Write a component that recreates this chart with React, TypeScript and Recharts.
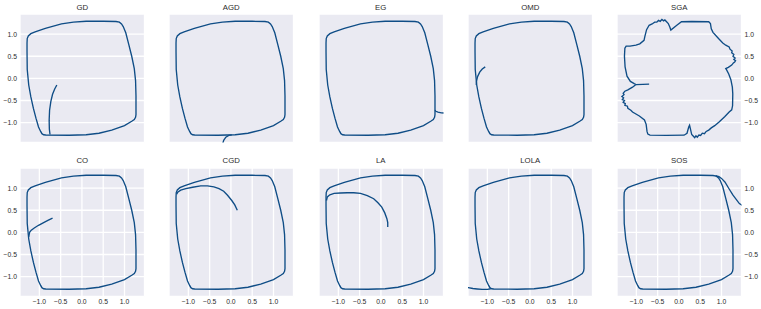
import { LineChart, Line, XAxis, YAxis, CartesianGrid } from 'recharts';

// shared limit cycle, traced clockwise from the top-left corner
const LOOP = [
  [-1.29, 0.8], [-1.285, 0.9], [-1.26, 0.96], [-1.2, 1.01], [-1.1, 1.05], [-0.86, 1.13],
  [-0.48, 1.23], [-0.2, 1.27], [0.1, 1.29], [0.5, 1.29], [0.8, 1.285], [0.88, 1.27],
  [0.93, 1.23], [0.97, 1.17], [1.03, 1.03], [1.1, 0.77], [1.17, 0.5], [1.23, 0.22],
  [1.26, -0.05], [1.27, -0.4], [1.27, -0.82], [1.26, -0.88], [1.23, -0.93], [1.17, -0.97],
  [1.0, -1.07], [0.7, -1.17], [0.4, -1.24], [0.1, -1.275], [-0.3, -1.285], [-0.85, -1.28],
  [-0.9, -1.275], [-0.94, -1.25], [-0.97, -1.2], [-1.02, -1.1], [-1.08, -0.9], [-1.14, -0.68],
  [-1.2, -0.42], [-1.25, -0.15], [-1.285, 0.2], [-1.29, 0.6], [-1.29, 0.8],
];

const SGA_LOOP = [
  [-1.01, -0.14], [-1.09, -0.2], [-1.2, -0.26], [-1.27, -0.29], [-1.31, -0.34], [-1.29, -0.37],
  [-1.34, -0.41], [-1.3, -0.44], [-1.33, -0.48], [-1.28, -0.5], [-1.31, -0.54], [-1.26, -0.57],
  [-1.27, -0.61], [-1.21, -0.63], [-1.2, -0.68], [-1.13, -0.72], [-1.09, -0.76], [-0.93, -0.85],
  [-0.81, -0.94], [-0.77, -1.04], [-0.75, -1.2], [-0.73, -1.26], [-0.68, -1.285], [-0.3, -1.29],
  [0.12, -1.285], [0.19, -1.24], [0.23, -1.1], [0.25, -1.06], [0.27, -1.14], [0.3, -1.27],
  [0.34, -1.31], [0.37, -1.34], [0.4, -1.3], [0.43, -1.33], [0.47, -1.28], [0.51, -1.29],
  [0.55, -1.24], [0.6, -1.25], [0.64, -1.2], [0.7, -1.17], [0.76, -1.12], [0.84, -1.07],
  [0.95, -0.98], [1.08, -0.86], [1.18, -0.76], [1.24, -0.71], [1.26, -0.62], [1.265, -0.35],
  [1.255, -0.2], [1.22, -0.03], [1.17, 0.1], [1.12, 0.19], [1.1, 0.22], [1.16, 0.25],
  [1.24, 0.3], [1.28, 0.35], [1.31, 0.37], [1.33, 0.4], [1.29, 0.43], [1.32, 0.46],
  [1.27, 0.5], [1.29, 0.54], [1.24, 0.58], [1.25, 0.62], [1.2, 0.66], [1.18, 0.71],
  [1.1, 0.75], [1.03, 0.8], [0.93, 0.9], [0.8, 1.04], [0.76, 1.12], [0.74, 1.24],
  [0.7, 1.28], [0.3, 1.285], [0.06, 1.28], [-0.05, 1.2], [-0.19, 1.09], [-0.21, 1.15],
  [-0.25, 1.24], [-0.29, 1.28], [-0.33, 1.32], [-0.36, 1.3], [-0.4, 1.33], [-0.44, 1.29],
  [-0.48, 1.31], [-0.52, 1.27], [-0.57, 1.27], [-0.63, 1.23], [-0.7, 1.2], [-0.76, 1.1],
  [-0.8, 0.95], [-0.82, 0.86], [-0.92, 0.78], [-1.01, 0.75], [-1.15, 0.73], [-1.24, 0.73],
  [-1.27, 0.68], [-1.28, 0.5], [-1.265, 0.26], [-1.22, 0.05], [-1.14, -0.07], [-1.05, -0.12],
  [-1.01, -0.14],
];

// transient part of each run, from the start point to where it meets the cycle
const GD_TAIL = [[-0.59, -0.15], [-0.64, -0.24], [-0.69, -0.36], [-0.73, -0.52], [-0.76, -0.72], [-0.77, -0.95], [-0.765, -1.15], [-0.75, -1.27]];
const AGD_TAIL = [[-0.2, -1.5], [-0.17, -1.4], [-0.12, -1.33], [-0.05, -1.29], [0.02, -1.278]];
const EG_TAIL = [[1.5, -0.785], [1.42, -0.78], [1.34, -0.765], [1.29, -0.745], [1.27, -0.72]];
const OMD_TAIL = [[-1.05, 0.26], [-1.12, 0.21], [-1.18, 0.14], [-1.23, 0.04], [-1.255, -0.06], [-1.26, -0.15]];
const SGA_TAIL = [[-0.7, -0.13], [-0.85, -0.135], [-1.01, -0.14]];
const CO_TAIL = [[-0.69, 0.32], [-0.8, 0.27], [-0.9, 0.22], [-1.02, 0.16], [-1.12, 0.1], [-1.19, 0.05], [-1.23, 0.0], [-1.25, -0.1]];
const CGD_TAIL = [[0.15, 0.5], [0.09, 0.62], [0.02, 0.72], [-0.08, 0.84], [-0.17, 0.93], [-0.28, 0.99], [-0.4, 1.03], [-0.55, 1.05], [-0.71, 1.05], [-0.9, 1.02], [-1.06, 0.99], [-1.18, 0.955], [-1.25, 0.91], [-1.275, 0.86]];
const LA_TAIL = [[0.16, 0.12], [0.16, 0.22], [0.14, 0.31], [0.09, 0.44], [0.02, 0.57], [-0.07, 0.67], [-0.17, 0.76], [-0.32, 0.83], [-0.48, 0.88], [-0.64, 0.895], [-0.79, 0.895], [-0.95, 0.89], [-1.1, 0.88], [-1.2, 0.85], [-1.26, 0.8], [-1.28, 0.72]];
const LOLA_TAIL = [[-1.55, -1.235], [-1.45, -1.25], [-1.34, -1.27], [-1.24, -1.28], [-1.12, -1.29], [-1.0, -1.29], [-0.92, -1.275]];
const SOS_TAIL = [[1.5, 0.6], [1.42, 0.65], [1.35, 0.74], [1.27, 0.84], [1.18, 0.98], [1.08, 1.14], [1.0, 1.22], [0.94, 1.26], [0.86, 1.28]];

const TITLES = ['GD', 'AGD', 'EG', 'OMD', 'SGA', 'CO', 'CGD', 'LA', 'LOLA', 'SOS'];
const TAILS = [GD_TAIL, AGD_TAIL, EG_TAIL, OMD_TAIL, SGA_TAIL, CO_TAIL, CGD_TAIL, LA_TAIL, LOLA_TAIL, SOS_TAIL];
const TICKS = [-1, -0.5, 0, 0.5, 1];

const COLS = [20, 169, 318.5, 468, 617];
const ROWS = [14, 167.5];
const PW = 124.5;
const PH = 128.5;
const AX = 30;

const LINE = '#0f4d86';
const TEXT = '#2b2b2b';
const FONT = '"Liberation Sans", Arial, sans-serif';

const pts = (a: number[][]) => a.map(([x, y]) => ({ x, y }));
const fmt = (v: number) => (v < 0 ? '\u2212' : '') + Math.abs(v).toFixed(1);

function Panel({ i }: { i: number }) {
  const col = i % 5;
  const row = Math.floor(i / 5);
  const left = COLS[col];
  const top = ROWS[row];
  const loop = TITLES[i] === 'SGA' ? SGA_LOOP : LOOP;
  const tick = { fontSize: 6.8, fill: TEXT, fontFamily: FONT };
  const yOrient = col === 4 ? 'right' : 'left';
  const showY = col === 0 || col === 4;

  return (
    <>
      <div
        style={{
          position: 'absolute',
          left,
          top: top - 11.5,
          width: PW,
          height: 10,
          lineHeight: '10px',
          textAlign: 'center',
          fontSize: 7.8,
          fontFamily: FONT,
          color: TEXT,
        }}
      >
        {TITLES[i]}
      </div>
      <div style={{ position: 'absolute', left: left - AX, top: top - 5 }}>
        <LineChart
          width={PW + 2 * AX}
          height={PH + 20}
          margin={{
            top: 5,
            bottom: 0,
            left: col === 0 ? 0 : AX,
            right: col === 4 ? 0 : AX,
          }}
        >
          <CartesianGrid fill="#EAEAF2" stroke="#ffffff" strokeWidth={1.3} />
          <XAxis
            type="number"
            dataKey="x"
            domain={[-1.455, 1.47]}
            allowDataOverflow
            ticks={TICKS}
            interval={0}
            tickFormatter={fmt}
            tick={row === 1 ? tick : false}
            axisLine={false}
            tickLine={false}
            tickSize={0}
            tickMargin={3}
            height={15}
          />
          <YAxis
            type="number"
            dataKey="y"
            orientation={yOrient}
            domain={[-1.45, 1.455]}
            allowDataOverflow
            ticks={TICKS}
            interval={0}
            tickFormatter={fmt}
            tick={showY ? tick : false}
            axisLine={false}
            tickLine={false}
            tickSize={0}
            tickMargin={3}
            width={showY ? AX : 0}
          />
          <Line
            data={pts(loop)}
            dataKey="y"
            type="linear"
            stroke={LINE}
            strokeWidth={1.35}
            dot={false}
            isAnimationActive={false}
          />
          <Line
            data={pts(TAILS[i])}
            dataKey="y"
            type="linear"
            stroke={LINE}
            strokeWidth={1.35}
            dot={false}
            isAnimationActive={false}
          />
        </LineChart>
      </div>
    </>
  );
}

export default function App() {
  return (
    <div style={{ position: 'absolute', left: 0, top: 0, width: 761, height: 309, background: '#fff' }}>
      {TITLES.map((_, i) => (
        <Panel key={i} i={i} />
      ))}
    </div>
  );
}
